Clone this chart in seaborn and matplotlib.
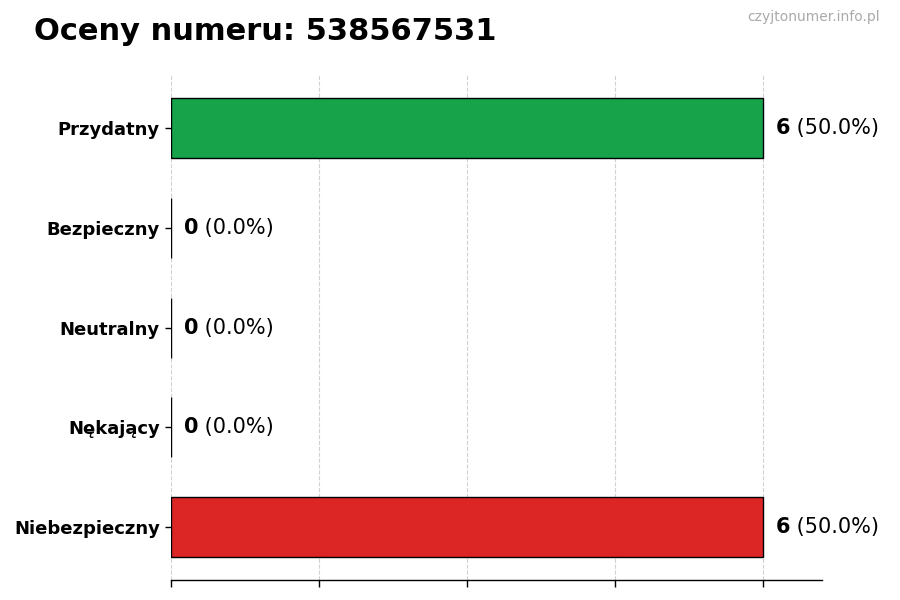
import matplotlib
matplotlib.use("Agg")
import matplotlib.pyplot as plt
import seaborn as sns
import pandas as pd

categories = ["Przydatny", "Bezpieczny", "Neutralny", "Nękający", "Niebezpieczny"]
counts = [6, 0, 0, 0, 6]
colors = ["#16a34a", "#9ca3af", "#9ca3af", "#9ca3af", "#dc2626"]
title = "Oceny numeru: 538567531"
watermark = "czyjtonumer.info.pl"

sns.set_theme(style="white")
plt.rcParams['font.family'] = ['DejaVu Sans']

df = pd.DataFrame({"cat": categories, "n": counts})
total = sum(counts)

fig = plt.figure(figsize=(9, 6), dpi=100)
ax = fig.add_axes([0.19, 0.033, 0.723, 0.842])
sns.barplot(data=df, y="cat", x="n", hue="cat", palette=colors, legend=False,
            orient="h", width=0.6, edgecolor="black", linewidth=1, ax=ax,
            saturation=1)

ax.set_xlim(0, max(counts) * 1.1)
ax.set_ylim(4.53, -0.53)
ax.set_xticks([0, 1.5, 3, 4.5, 6])
ax.set_xticklabels([])
ax.set_xlabel("")
ax.set_ylabel("")
ax.grid(axis="x", linestyle="--", color="#cccccc", linewidth=0.8, alpha=0.9)
ax.set_axisbelow(True)
for s in ["top", "right", "left"]:
    ax.spines[s].set_visible(False)
ax.spines["bottom"].set_color("black")
ax.spines["bottom"].set_linewidth(1)
ax.tick_params(axis="x", bottom=True, length=5, width=1, color="black")
ax.tick_params(axis="y", left=True, length=4, width=1, color="black", labelsize=13, pad=4)
for lbl in ax.get_yticklabels():
    lbl.set_fontweight("bold")
    lbl.set_color("black")

for i, v in enumerate(counts):
    pct = v / total * 100
    t = ax.text(v + 0.13, i, f"{v}", fontsize=15, fontweight="bold",
                va="center", ha="left", color="black")
    ax.annotate(f" ({pct:.1f}%)", xy=(1, 0), xycoords=t, fontsize=15,
                va="bottom", ha="left", color="black")

fig.text(0.038, 0.948, title, fontsize=22, fontweight="bold", va="center", ha="left",
         color="black")
fig.text(0.978, 0.972, watermark, fontsize=10, color="#aaaaaa", va="center", ha="right")

fig.savefig("out.png", dpi=100)
